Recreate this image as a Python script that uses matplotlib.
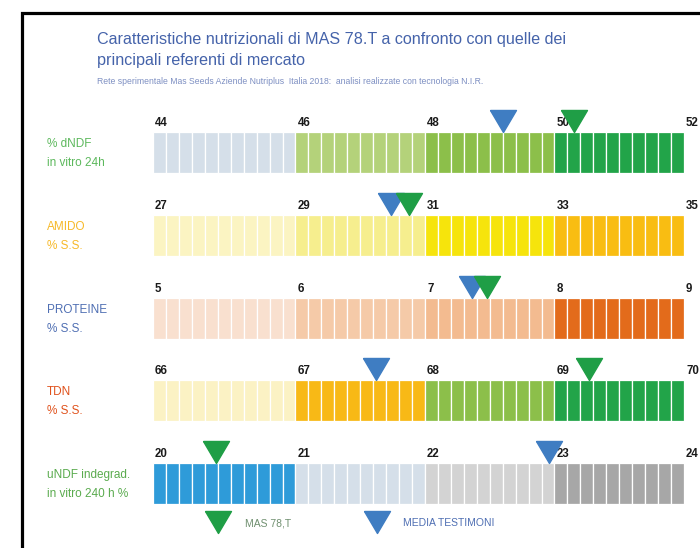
import numpy as np
import matplotlib
matplotlib.use("Agg")
import matplotlib.pyplot as plt
from matplotlib.lines import Line2D
from matplotlib.patches import Rectangle

plt.rcParams['font.family'] = ['Liberation Sans', 'DejaVu Sans']

# ---------------- data ----------------
row_labels = ["% dNDF\nin vitro 24h", "AMIDO\n% S.S.", "PROTEINE\n% S.S.",
              "TDN\n% S.S.", "uNDF indegrad.\nin vitro 240 h %"]
label_colors = ["#5cb85c", "#f7b928", "#4f6fb3", "#e0521c", "#5aab4e"]
tick_values = [[44, 46, 48, 50, 52],
               [27, 29, 31, 33, 35],
               [5, 6, 7, 8, 9],
               [66, 67, 68, 69, 70],
               [20, 21, 22, 23, 24]]
mas_78t = [50.3, 30.75, 7.48, 69.27, 20.44]
media_testimoni = [49.2, 30.48, 7.36, 67.62, 22.96]
segment_colors = [["#d5dfe9", "#b4d27a", "#8cbf4a", "#22a449"],
                  ["#fbf4c2", "#f6ee8e", "#f6e40c", "#f9bd12"],
                  ["#f9e0cf", "#f5caa8", "#f3bb90", "#e36b1b"],
                  ["#fbf2c4", "#f8b916", "#8cbf4a", "#22a449"],
                  ["#2e9bd9", "#d5dfe9", "#d3d3d3", "#a7a7a7"]]
legend_labels = ["MAS 78,T", "MEDIA TESTIMONI"]

title = "Caratteristiche nutrizionali di MAS 78.T a confronto con quelle dei\nprincipali referenti di mercato"
subtitle = "Rete sperimentale Mas Seeds Aziende Nutriplus  Italia 2018:  analisi realizzate con tecnologia N.I.R."

# ---------------- layout ----------------
W, H = 700, 548
cells_per_segment = [11, 10, 10, 10]
bar_left, bar_right = 153, 684
bar_tops = [132, 215, 298, 380, 463]
bar_h = 41
green = "#1f9e46"
blue = "#3f7dc2"

fig = plt.figure(figsize=(W / 100, H / 100), dpi=100)
fig.patch.set_facecolor("white")

# frame (top and left edges visible)
fig.add_artist(Rectangle((21.5 / W, -0.2), 1.5, 0.2 + 1 - 12.5 / H,
                         transform=fig.transFigure, fill=False,
                         edgecolor="black", linewidth=2.3))

fig.text(97 / W, 1 - 32 / H, title, color="#4563aa", fontsize=11.6,
         va="top", ha="left", linespacing=1.5)
fig.text(97 / W, 1 - 82 / H, subtitle, color="#7d8fc2", fontsize=6.2,
         va="center", ha="left")

tip_marker = [(-0.59, 1.0), (0.59, 1.0), (0.0, 0.0), (-0.59, 1.0)]
bounds = np.concatenate([[0], np.cumsum(cells_per_segment)])

for i in range(len(row_labels)):
    top = bar_tops[i]
    ax = fig.add_axes([bar_left / W, 1 - (top + bar_h) / H,
                       (bar_right - bar_left) / W, bar_h / H])
    ax.set_xlim(0, bounds[-1])
    ax.set_ylim(0, 1)
    ax.axis("off")
    # cells
    for s, n in enumerate(cells_per_segment):
        xs = bounds[s] + np.arange(n)
        ax.bar(xs, np.ones(n), width=1.0, bottom=0, align="edge",
               color=segment_colors[i][s], edgecolor="white", linewidth=0.9)
    # tick labels
    for b, v in zip(bounds, tick_values[i]):
        ax.annotate(str(v), (b, 1), xytext=(1.5, 2), textcoords="offset points",
                    ha="left", va="bottom", fontsize=8.3, fontweight="bold",
                    color="#1a1a1a", annotation_clip=False)
    # markers
    xm = np.interp(media_testimoni[i], tick_values[i], bounds)
    xg = np.interp(mas_78t[i], tick_values[i], bounds)
    ax.plot([xm], [1], marker=tip_marker, ms=31.7, color=blue,
            linestyle="none", clip_on=False, zorder=5)
    ax.plot([xg], [1], marker=tip_marker, ms=31.7, color=green,
            linestyle="none", clip_on=False, zorder=6)
    # row label
    fig.text(47 / W, 1 - (top + bar_h / 2 + 1) / H, row_labels[i],
             color=label_colors[i], fontsize=8.5, ha="left", va="center",
             linespacing=1.75)

# legend
center_marker = [(-0.59, 0.5), (0.59, 0.5), (0.0, -0.5), (-0.59, 0.5)]
handles = [Line2D([], [], marker=center_marker, ms=18.7, color=green, linestyle="none"),
           Line2D([], [], marker=center_marker, ms=18.7, color=blue, linestyle="none")]
fig.legend(handles, legend_labels, loc="center left",
           bbox_to_anchor=(205 / W, 1 - 523 / H), ncol=2, frameon=False,
           fontsize=7.5, labelcolor=["#6f8f6f", "#4f6fb3"], handlelength=2.5,
           handletextpad=1.3, columnspacing=7.0, borderpad=0, borderaxespad=0)

fig.savefig("out.png", dpi=100)
